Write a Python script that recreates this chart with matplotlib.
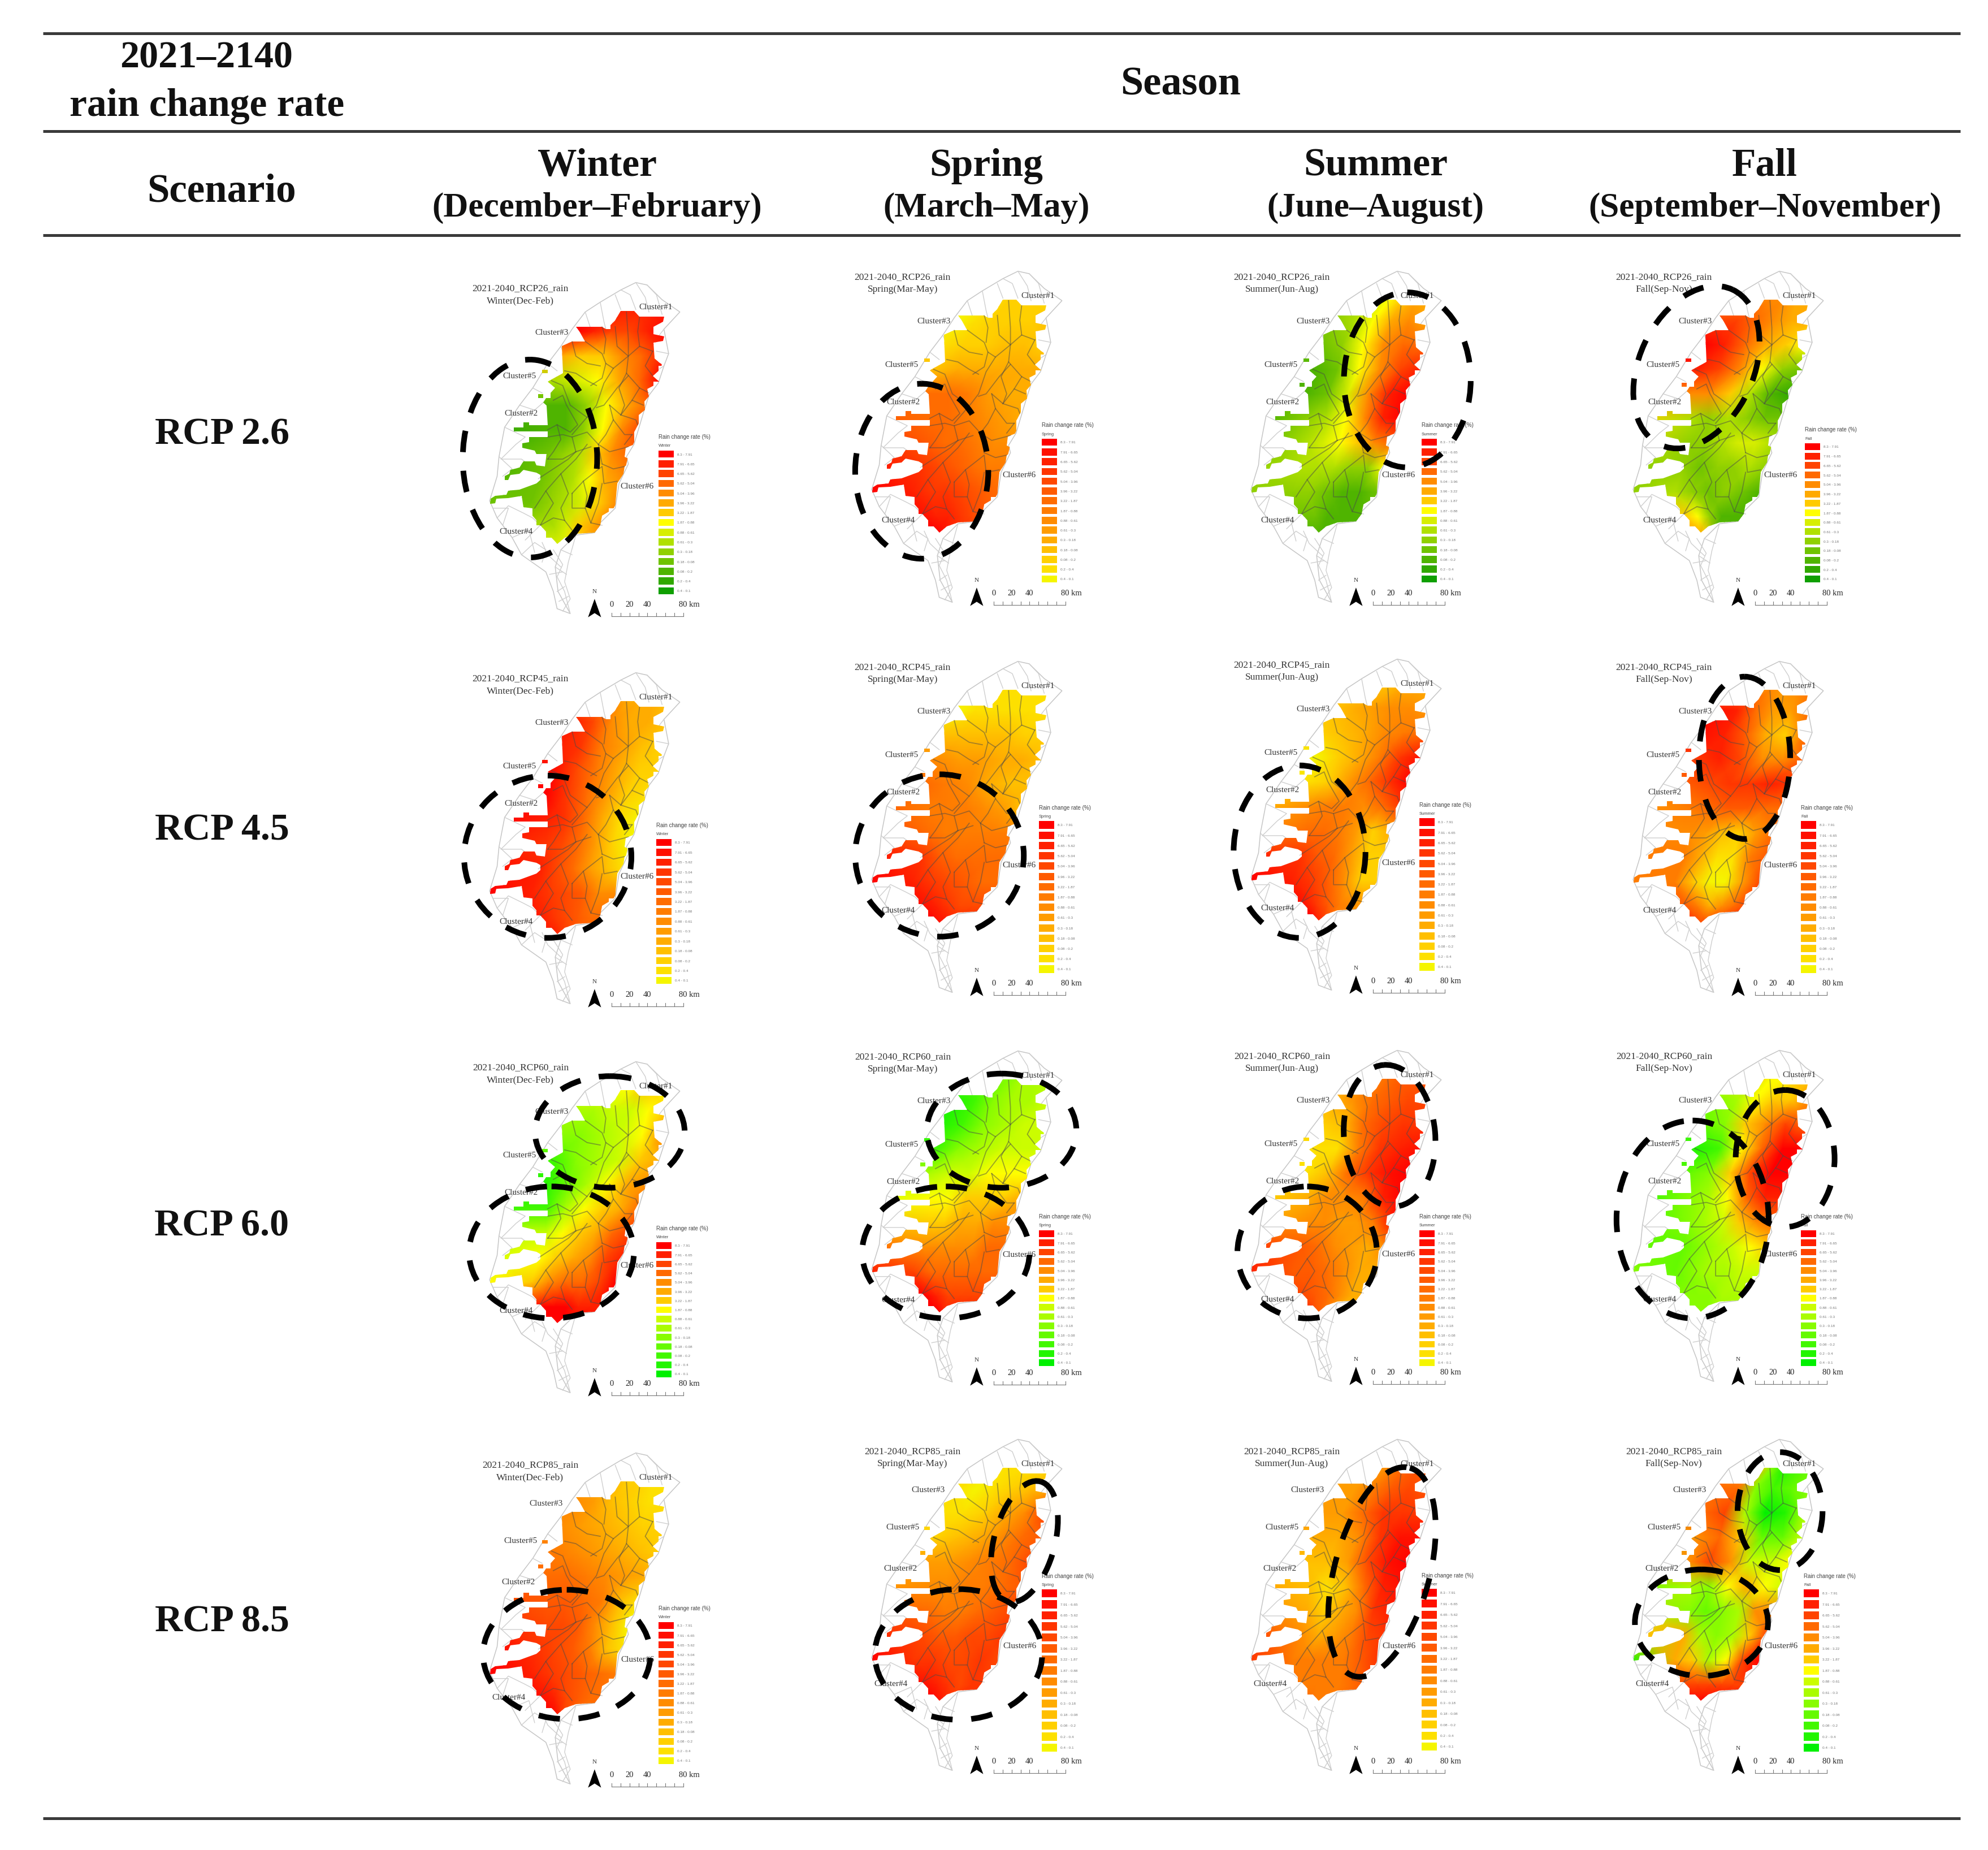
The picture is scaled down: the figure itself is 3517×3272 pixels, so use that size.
import matplotlib
matplotlib.use('Agg')
import matplotlib.pyplot as plt
import numpy as np
from matplotlib.colors import LinearSegmentedColormap, Normalize
from matplotlib.patches import Ellipse, Polygon
from matplotlib.path import Path

W, H = 3517, 3273
SERIF = 'Liberation Serif'

SEASONS = ['Winter', 'Spring', 'Summer', 'Fall']
MONTHS = ['(December\u2013February)', '(March\u2013May)', '(June\u2013August)', '(September\u2013November)']
SHORT = ['Winter(Dec-Feb)', 'Spring(Mar-May)', 'Summer(Jun-Aug)', 'Fall(Sep-Nov)']
SCENARIOS = ['RCP 2.6', 'RCP 4.5', 'RCP 6.0', 'RCP 8.5']
CODES = ['RCP26', 'RCP45', 'RCP60', 'RCP85']

# map shapes, in the coordinates of the first panel crop
ISLAND = [(1040,140),(1100,150),(1180,210),(1275,260),(1190,330),(1215,430),(1190,480),(1160,550),(1110,600),
          (1085,660),(1030,800),(990,850),(1000,880),(950,960),(930,1060),(850,1120),(820,1160),(720,1170),
          (640,1230),(610,1300),(625,1400),(690,1490),(620,1470),(600,1400),(560,1320),(430,1250),(380,1180),
          (300,1100),(260,1030),(300,930),(310,850),(340,730),(420,640),(490,570),(570,470),(640,400),(700,330),
          (770,260),(850,220),(960,170)]
REGION = [(720,320),(860,320),(880,330),(930,295),(960,255),(1030,255),(1060,280),(1190,280),(1185,300),(1135,320),
          (1135,350),(1190,360),(1185,378),(1135,385),(1140,450),(1165,465),(1190,480),(1130,520),(1165,545),(1100,575),
          (1110,605),(1085,625),(1090,660),(1055,680),(1055,715),(1030,750),(1030,800),(985,815),(980,850),
          (1005,860),(1000,880),(980,890),(975,920),(940,960),(930,1060),(860,1090),(850,1130),(820,1160),
          (720,1165),(660,1180),(620,1205),(590,1180),(530,1130),(490,1090),(490,1060),(440,1055),(430,1010),
          (360,1020),(295,1022),(290,1040),(262,1042),(265,1022),(290,1010),(350,1005),(360,990),(420,985),
          (510,960),(530,945),(530,925),(510,915),(440,905),(420,920),(370,925),(360,945),(340,945),(340,930),
          (365,920),(370,905),(420,895),(440,870),(500,870),(510,885),(555,890),(565,840),(510,840),(500,825),
          (435,815),(435,795),(470,790),(470,770),(570,770),(570,748),(390,748),(390,732),(440,730),(440,710),
          (470,710),(470,722),(570,722),(565,640),(545,630),(560,610),(610,570),(570,545),(590,535),(650,510),
          (645,400),(700,380),(770,380),(740,340)]
SPOTS = [[(540,495),(570,495),(570,510),(540,510)], [(520,595),(545,595),(545,610),(520,610)]]
STEP_X, STEP_Y = 40, 30
# watershed boundaries
INNER = [[(770,380),(860,430),(880,470),(920,490),(1000,440),(1060,400),(1130,420)],
         [(920,490),(870,550),(830,640),(790,680),(700,760)],
         [(1000,520),(940,570),(870,640),(830,650)],
         [(860,320),(880,370),(870,430)],
         [(990,260),(1000,370),(1000,440),(990,510),(1060,570),(1110,590)],
         [(600,620),(650,600),(670,640),(700,680),(730,720),(690,750),(620,720),(570,740)],
         [(590,540),(650,560),(690,640),(780,690)],
         [(570,770),(650,760),(700,770),(780,750),(840,800),(900,830),(1000,810)],
         [(570,860),(650,860),(720,830),(800,810)],
         [(520,940),(600,900),(680,860),(720,830)],
         [(500,1060),(560,990),(640,920),(720,860),(780,800)],
         [(530,1130),(600,1100),(660,1110),(700,1150)],
         [(700,1000),(760,950),(860,890),(870,960),(940,950)],
         [(700,1000),(700,1060),(770,1060),(800,1120),(860,1130)],
         [(840,800),(860,880)],
         [(1020,620),(1080,640)],
         [(960,680),(1040,700),(1050,720)],
         [(900,640),(920,700),(980,760),(1020,760)],
         [(700,380),(720,440),(780,470),(850,480)],
         [(1060,280),(1050,340),(1060,400)],
         [(930,320),(940,400),(1000,440)],
         [(1130,420),(1090,480),(1130,520)],
         [(990,510),(950,570),(980,640),(960,680)],
         [(660,500),(720,510),(780,540),(830,560)],
         [(880,470),(860,530),(800,560)],
         [(1060,570),(1020,620),(960,680),(900,640)],
         [(920,700),(880,760),(840,800)],
         [(1020,760),(980,800)],
         [(860,880),(920,900),(980,890)],
         [(620,720),(640,780),(600,830),(570,860)],
         [(700,770),(720,830)],
         [(560,990),(600,1040),(560,1090),(530,1130)],
         [(640,920),(680,1000),(640,1060),(660,1110)],
         [(760,950),(780,1010),(770,1060)],
         [(860,960),(840,1040),(800,1120)]]
OUTER = [[(850,220),(870,300),(880,330)],[(770,260),(800,330),(830,340)],[(960,170),(1010,190),(1040,250)],
         [(1040,140),(1090,200),(1110,260)],[(1100,150),(1150,190),(1180,270)],[(930,190),(960,250)],
         [(1190,330),(1150,370)],[(1215,430),(1150,420)],[(1190,480),(1150,500)],
         [(600,1230),(650,1290),(620,1340),(660,1400),(690,1490)],[(540,1200),(570,1250),(640,1300)],
         [(720,1170),(680,1280),(660,1360),(690,1430),(650,1480)],[(620,1400),(660,1380)],[(580,1330),(650,1320)],
         [(640,1230),(700,1250)],[(610,1300),(670,1330)],[(630,1440),(680,1420)],
         [(340,730),(450,770),(400,800),(320,860),(430,860),(500,900)],[(310,850),(380,900),(330,930)],
         [(300,1100),(360,1050),(440,1080),(490,1100),(530,1130),(450,1190)],[(380,1180),(470,1150),(500,1240)],
         [(420,640),(500,660),(560,620)],[(490,570),(540,590)],[(280,1060),(360,1060),(330,1130)],
         [(430,1250),(500,1200),(560,1230),(540,1280)],[(570,470),(620,500)],[(640,400),(660,440)]]

CLUSTER_NAMES = ['Cluster#1', 'Cluster#3', 'Cluster#5', 'Cluster#2', 'Cluster#4', 'Cluster#6']
CLUSTER_XY = [(1145,238),(592,342),(420,520),(428,672),(400,1155),(1045,970)]
CLUSTER_XY_85 = [(1145,238),(562,345),(425,497),(412,665),(362,1135),(1050,980)]

# mesh stations, north to south: y, west edge, east edge of the main body
MESH_Y = [250, 340, 440, 540, 640, 740, 840, 940, 1040, 1140, 1210]
MESH_W = [870, 720, 640, 610, 560, 565, 560, 530, 480, 540, 590]
MESH_E = [1200, 1200, 1180, 1170, 1100, 1060, 1000, 970, 935, 860, 720]
FINGER_X = 250

# legend class per mesh cell: 1 = bottom of the legend, 15 = top. First value is the west coast strips
RCP26_WINTER = [[14,14,14,14,14,14,14],[15,15,14,13,13,14,15],[10,10,9,9,11,12,14],[7,6,7,8,10,12,15],[3,3,3,5,8,10,12],
                [2,3,3,5,8,11,13],[2,4,5,6,9,11,12],[3,4,5,6,8,10,11],[4,4,5,6,7,9,11],[4,6,6,7,9,10,11],[4,7,7,7,8,9,9]]
RCP26_SPRING = [[2,2,2,3,3,3,2],[2,1,2,3,3,3,4],[3,2,3,3,4,4,3],[5,4,5,5,5,5,5],[9,9,9,8,6,5,5],
                [10,9,9,8,7,6,5],[13,10,9,9,8,7,7],[14,12,11,10,9,8,8],[15,13,12,12,11,10,9],[15,14,13,13,12,11,10],[15,15,15,14,13,13,13]]
RCP26_SUMMER = [[5,6,7,8,9,10,10],[5,5,6,8,10,11,10],[4,4,5,8,11,12,12],[3,3,4,8,11,13,14],[3,3,4,7,11,14,15],
                [2,5,6,8,11,14,15],[3,6,7,8,9,11,12],[5,6,6,6,5,5,8],[5,5,5,4,3,3,4],[4,4,4,3,3,3,3],[4,3,3,3,3,3,3]]
RCP26_FALL = [[12,11,11,11,11,10,10],[13,13,13,12,11,10,10],[15,15,14,12,10,9,8],[14,14,13,11,8,5,4],[11,11,11,9,6,3,2],
              [9,6,5,6,5,4,4],[7,5,5,6,7,7,6],[5,5,4,5,5,6,5],[5,6,5,4,5,4,3],[8,9,8,5,3,3,3],[10,10,10,9,4,3,3]]
RCP45_WINTER = [[10,8,6,5,5,5,4],[13,13,11,7,5,5,4],[14,13,12,8,6,4,3],[15,14,11,8,5,3,3],[15,15,12,9,6,3,2],
                [15,13,12,9,5,2,1],[14,12,11,9,6,3,1],[14,13,11,9,6,4,2],[15,13,12,11,10,7,7],[15,13,12,11,10,9,9],[15,13,13,12,11,10,10]]
RCP45_SPRING = [[4,3,2,2,2,2,2],[2,1,2,2,2,2,2],[5,4,4,4,4,3,3],[8,7,6,6,5,5,4],[9,9,8,7,5,4,4],
                [10,8,8,8,7,6,4],[12,9,8,8,8,8,8],[14,12,10,9,9,9,9],[15,13,12,11,10,9,9],[15,14,13,12,11,11,11],[15,15,14,14,13,13,13]]
RCP45_SUMMER = [[4,4,4,4,5,5,5],[4,4,5,6,7,7,6],[4,3,4,5,7,8,9],[2,1,3,5,8,12,14],[2,2,3,6,9,12,15],
                [4,7,8,8,7,9,12],[7,9,9,8,6,3,5],[13,12,10,9,6,3,3],[15,13,12,10,7,3,3],[15,14,12,10,8,7,6],[15,15,13,12,9,8,7]]
RCP45_FALL = [[7,7,6,7,6,7,8],[14,14,13,9,6,6,9],[14,14,13,10,5,3,9],[4,12,13,11,7,7,10],[5,10,11,12,12,13,12],
              [6,8,9,10,10,9,9],[8,7,6,4,3,6,9],[8,8,5,2,2,8,10],[8,8,4,1,1,6,11],[9,10,8,5,7,9,11],[11,12,11,11,11,11,11]]
RCP60_WINTER = [[6,7,8,8,9,9,8],[6,6,6,7,7,8,9],[5,5,5,6,7,8,11],[3,3,5,6,7,9,10],[2,2,4,6,8,10,11],
                [3,3,6,8,9,10,12],[6,7,8,9,10,12,13],[7,8,9,10,11,13,14],[8,9,11,12,12,13,15],[14,15,15,15,14,14,14],[15,15,15,15,15,15,15]]
RCP60_SPRING = [[4,4,5,5,6,6,6],[2,2,3,5,6,6,7],[2,2,3,5,6,7,7],[3,3,5,6,7,7,7],[6,6,7,7,8,8,8],
                [7,8,8,9,9,9,10],[9,9,9,10,10,11,11],[12,11,11,11,11,12,12],[14,13,12,12,12,12,12],[14,15,14,13,13,13,13],[15,15,15,14,14,14,14]]
RCP60_SUMMER = [[5,6,8,9,10,10,10],[6,5,7,9,10,11,11],[3,3,4,9,11,12,12],[2,2,2,8,12,13,14],[2,2,4,9,12,14,15],
                [2,5,7,7,8,13,15],[5,7,7,6,6,8,13],[12,10,9,7,6,5,7],[13,10,10,9,7,5,5],[13,11,10,9,7,5,5],[13,12,10,9,7,5,5]]
RCP60_FALL = [[8,8,9,8,8,9,9],[6,5,6,8,9,9,11],[4,4,5,9,11,13,12],[2,2,3,8,12,15,15],[3,4,5,9,13,15,15],
              [2,5,6,8,12,14,14],[3,5,6,7,9,11,12],[4,4,5,6,7,8,9],[5,4,5,6,6,7,7],[5,5,5,5,6,6,6],[5,5,5,5,5,6,6]]
RCP85_WINTER = [[6,5,4,3,3,2,2],[7,7,6,4,3,2,2],[7,7,6,5,4,3,3],[8,8,7,6,5,4,3],[10,9,9,8,7,6,5],
                [11,10,10,9,8,4,2],[13,11,11,10,7,4,1],[15,12,11,10,8,4,2],[15,13,12,11,10,9,8],[15,14,13,11,10,9,9],[15,15,14,12,10,9,9]]
RCP85_SPRING = [[2,2,2,2,2,2,2],[2,2,1,2,3,4,5],[3,2,2,3,5,7,11],[3,3,4,5,7,9,10],[5,6,6,7,8,9,11],
                [6,7,7,8,8,9,10],[11,9,8,8,9,10,11],[13,11,10,10,11,11,12],[15,12,12,11,11,12,11],[15,14,13,12,11,12,12],[15,15,14,13,12,12,12]]
RCP85_SUMMER = [[5,5,6,7,9,10,10],[6,6,6,8,10,11,10],[6,6,6,9,12,12,12],[5,5,5,7,12,14,14],[4,4,4,6,11,14,15],
                [6,4,2,4,9,13,14],[7,5,3,5,7,12,13],[12,7,5,6,8,11,12],[12,8,8,8,8,10,12],[12,8,8,8,8,9,10],[12,9,8,8,8,8,8]]
RCP85_FALL = [[11,11,9,5,2,3,4],[11,12,12,5,3,4,5],[12,12,13,6,1,2,6],[5,11,12,9,4,4,7],[11,11,13,11,7,7,8],
              [4,6,5,8,10,8,7],[9,5,4,5,6,11,11],[9,10,6,5,6,9,13],[2,10,9,6,8,13,15],[12,13,13,13,13,13,13],[15,15,15,15,15,15,15]]
PANELS = [[RCP26_WINTER, RCP26_SPRING, RCP26_SUMMER, RCP26_FALL],
          [RCP45_WINTER, RCP45_SPRING, RCP45_SUMMER, RCP45_FALL],
          [RCP60_WINTER, RCP60_SPRING, RCP60_SUMMER, RCP60_FALL],
          [RCP85_WINTER, RCP85_SPRING, RCP85_SUMMER, RCP85_FALL]]

# which legend ramp each panel uses
RAMPS = [['dark', 'yellow', 'dark', 'dark'],
         ['yellow', 'yellow', 'yellow', 'yellow'],
         ['bright', 'bright', 'yellow', 'bright'],
         ['yellow', 'yellow', 'yellow', 'bright']]
RAMP_COLORS = {
    'dark': ['#0f9f00','#30a800','#50b400','#70c400','#90d000','#b0e000','#d8ee00','#ffff00','#ffcc00','#ffaa00',
             '#ff8c00','#ff6a00','#ff4400','#ff2000','#ff0000'],
    'bright': ['#00f000','#22f500','#44f800','#66fa00','#88fc00','#aafc00','#ccfd00','#ffff00','#ffcc00','#ffaa00',
               '#ff8c00','#ff6a00','#ff4400','#ff2000','#ff0000'],
    'yellow': ['#f5f500','#fde000','#ffd000','#ffbe00','#ffac00','#ff9c00','#ff8c00','#ff7c00','#ff6c00','#ff5a00',
               '#ff4800','#ff3600','#ff2000','#ff1000','#ff0000'],
}

# panel placement in picture pixels
COL_DX = [0, 676, 1347, 2023]
ROW_DY = [0, 690, 1380, 2070]
PANEL_DY = [[0,-20,-20,-20],[0,-20,-24,-20],[-2,-21,-22,-22],[0,-24,-24,-24]]
LEG_X = [[1165,1843,2515,3193],[1161,1838,2511,3186],[1161,1838,2511,3186],[1165,1843,2515,3191]]
LEG_FIRST = [[804,783,783,791],[1491,1460,1455,1460],[2204,2183,2183,2183],[2876,2819,2818,2819]]
LEG_LAST = [[1046,1025,1025,1025],[1735,1715,1711,1715],[2431,2411,2411,2411],[3115,3092,3090,3092]]
LEG_TEXT = ['8.3 - 7.91','7.91 - 6.65','6.65 - 5.62','5.62 - 5.04','5.04 - 3.96','3.96 - 3.22','3.22 - 1.87',
            '1.87 - 0.88','0.88 - 0.61','0.61 - 0.3','0.3 - 0.18','0.18 - 0.08','0.08 - 0.2','0.2 - 0.4','0.4 - 0.1']

SCALE_KM = [0, 10, 20, 30, 40, 50, 60, 70, 80]
SCALE_LABELS = {0: '0', 20: '20', 40: '40', 80: '80 km'}

# dashed rings in screen pixels of the 1568 wide view: cx, cy, w, h, angle
VIEW = W / 1568.0
RINGS = [[[(418,362,106,156,0)], [(727,372,105,138,0)], [(1110,300,100,138,0)], [(1338,290,90,135,25)]],
         [[(432,676,132,128,0)], [(741,675,133,128,0)], [(1025,672,104,136,0)], [(1376,598,72,128,0)]],
         [[(481,893,118,88,0),(435,988,130,104,0)], [(790,892,118,90,0),(746,988,132,104,0)],
          [(1096,896,72,112,-5),(1031,988,110,104,0)], [(1335,962,120,156,0),(1408,914,78,108,0)]],
         [[(447,1305,132,102,0)], [(756,1305,132,103,0),(808,1216,48,98,15)], [(1090,1240,75,170,15)],
          [(1404,1192,67,93,0),(1342,1280,105,84,0)]]]

# crop coordinates to picture pixels
SX, SY = 0.3316, 0.4337
X0, Y0 = 780, 440

fig = plt.figure(figsize=(W / 100, H / 100), dpi=100)
ax = fig.add_axes([0, 0, 1, 1])
ax.set_xlim(0, W)
ax.set_ylim(H, 0)
ax.axis('off')


def to_px(points, dx, dy):
    pts = np.array(points, dtype=float)
    return np.column_stack([X0 + dx + pts[:, 0] * SX, Y0 + dy + pts[:, 1] * SY])


def stairs(points):
    # coast follows the grid cells of the rain raster
    out = []
    n = len(points)
    for i in range(n):
        x0, y0 = points[i]
        x1, y1 = points[(i + 1) % n]
        out.append((x0, y0))
        steps = int(min(abs(x1 - x0) / STEP_X, abs(y1 - y0) / STEP_Y))
        for k in range(steps):
            xa = x0 + (x1 - x0) * (k + 1) / (steps + 1)
            ya = y0 + (y1 - y0) * k / (steps + 1)
            yb = y0 + (y1 - y0) * (k + 1) / (steps + 1)
            out.append((xa, ya))
            out.append((xa, yb))
    return out


def closed_path(polys):
    verts, codes = [], []
    for p in polys:
        verts += list(map(tuple, p)) + [tuple(p[0])]
        codes += [Path.MOVETO] + [Path.LINETO] * (len(p) - 1) + [Path.CLOSEPOLY]
    return Path(verts, codes)


def draw_panel(r, c):
    dx = COL_DX[c]
    dy = ROW_DY[r] + PANEL_DY[r][c]
    ax.add_patch(Polygon(to_px(ISLAND, dx, dy), closed=True, fc='white', ec='#c6c6c6', lw=1.1, zorder=1))
    for seg in INNER + OUTER:
        p = to_px(seg, dx, dy)
        ax.plot(p[:, 0], p[:, 1], color='#cfcfcf', lw=1.0, zorder=1.5)

    # colour field
    clip = closed_path([to_px(stairs(REGION), dx, dy)] + [to_px(s, dx, dy) for s in SPOTS])
    fracs = [0, 0.2, 0.4, 0.6, 0.8, 1.0]
    gx, gy = [], []
    for y, w, e in zip(MESH_Y, MESH_W, MESH_E):
        row = [(FINGER_X, y)] + [(w + f * (e - w), y) for f in fracs]
        p = to_px(row, dx, dy)
        gx.append(p[:, 0])
        gy.append(p[:, 1])
    cmap = LinearSegmentedColormap.from_list('legend', RAMP_COLORS[RAMPS[r][c]])
    norm = Normalize(1, 15)
    mesh = ax.pcolormesh(np.array(gx), np.array(gy), np.array(PANELS[r][c], dtype=float),
                         cmap=cmap, norm=norm, shading='gouraud', zorder=2)
    mesh.set_clip_path(clip, ax.transData)
    for seg in INNER:
        p = to_px(seg, dx, dy)
        ln, = ax.plot(p[:, 0], p[:, 1], color='#4a4a4a', lw=1.3, alpha=0.5, zorder=2.5)
        ln.set_clip_path(clip, ax.transData)

    # map titles and cluster names
    tdx, tdy = (17, 11) if r == 3 else (0, 0)
    tx = X0 + dx + 425 * SX + tdx
    ax.text(tx, Y0 + dy + 162 * SY + tdy, '2021-2040_%s_rain' % CODES[r], family=SERIF, fontsize=12.5,
            color='#333333', ha='center', va='center', zorder=3)
    ax.text(tx, Y0 + dy + 213 * SY + tdy, SHORT[c], family=SERIF, fontsize=12.5,
            color='#333333', ha='center', va='center', zorder=3)
    names_xy = CLUSTER_XY_85 if r == 3 else CLUSTER_XY
    for name, xy in zip(CLUSTER_NAMES, to_px(names_xy, dx, dy)):
        ax.text(xy[0], xy[1], name, family=SERIF, fontsize=11, color='#333333',
                ha='center', va='center', zorder=3)

    # north arrow and scale bar
    ax.add_patch(Polygon(to_px([(820,1430),(855,1505),(820,1488),(785,1505)], dx, dy), closed=True,
                         fc='black', ec='none', zorder=3))
    p = to_px([(820,1398)], dx, dy)[0]
    ax.text(p[0], p[1], 'N', family=SERIF, fontsize=8, color='#333333', ha='center', va='center', zorder=3)
    for km in SCALE_KM:
        q = to_px([(910 + km * 4.8, 1488), (910 + km * 4.8, 1502)], dx, dy)
        ax.plot(q[:, 0], q[:, 1], color='#777777', lw=0.8, zorder=3)
        if km in SCALE_LABELS:
            t = to_px([(910 + km * 4.8 + (30 if km == 80 else 0), 1452)], dx, dy)[0]
            ax.text(t[0], t[1], SCALE_LABELS[km], family=SERIF, fontsize=10.5, color='#222222',
                    ha='center', va='center', zorder=3)
    q = to_px([(910, 1502), (910 + 80 * 4.8, 1502)], dx, dy)
    ax.plot(q[:, 0], q[:, 1], color='#777777', lw=0.8, zorder=3)

    # legend
    lx, first, last = LEG_X[r][c], LEG_FIRST[r][c], LEG_LAST[r][c]
    ys = np.linspace(last, first, 15)
    classes = np.arange(1, 16)
    ax.barh(ys, 27, height=(last - first) / 14 * 0.72, left=lx, color=[cmap(norm(k)) for k in classes], zorder=3)
    for y, lab in zip(ys, LEG_TEXT[::-1]):
        ax.text(lx + 33, y, lab, family='Liberation Sans', fontsize=4.6, color='#777777', va='center', zorder=3)
    ax.text(lx, first - 31, 'Rain change rate (%)', family='Liberation Sans', fontsize=7, color='#444444',
            va='center', zorder=3)
    ax.text(lx, first - 15, SEASONS[c], family='Liberation Sans', fontsize=5.5, color='#444444',
            va='center', zorder=3)

    for cx, cy, w, h, a in RINGS[r][c]:
        ax.add_patch(Ellipse((cx * VIEW, cy * VIEW), w * VIEW, h * VIEW, angle=a, fill=False, ec='black', lw=7.2,
                             linestyle=(0, (3.8, 3.3)), capstyle='butt', zorder=4))


for r in range(4):
    for c in range(4):
        draw_panel(r, c)

# table rules
for y in [60, 233, 417, 3217]:
    ax.plot([76, 3468], [y, y], color='#3a3a3a', lw=3.6, solid_capstyle='butt', zorder=5)

hdr = dict(family=SERIF, weight='bold', color='#111111', ha='center', va='center')
ax.text(163 * VIEW, 46 * VIEW, '2021\u20132140', fontsize=49, **hdr)
ax.text(163 * VIEW, 84 * VIEW, 'rain change rate', fontsize=50, **hdr)
ax.text(931 * VIEW, 67 * VIEW, 'Season', fontsize=52, **hdr)
ax.text(175 * VIEW, 151 * VIEW, 'Scenario', fontsize=51, **hdr)
COL_VIEW_X = [471, 778, 1085, 1392]
for name, months, x in zip(SEASONS, MONTHS, COL_VIEW_X):
    ax.text(x * VIEW, 131 * VIEW, name, fontsize=50, **hdr)
    ax.text(x * VIEW, 164 * VIEW, months, fontsize=44, **hdr)
for name, y in zip(SCENARIOS, [343, 655, 967, 1279]):
    ax.text(175 * VIEW, y * VIEW, name, fontsize=49, **hdr)

fig.savefig('out.png', dpi=100, facecolor='white')
